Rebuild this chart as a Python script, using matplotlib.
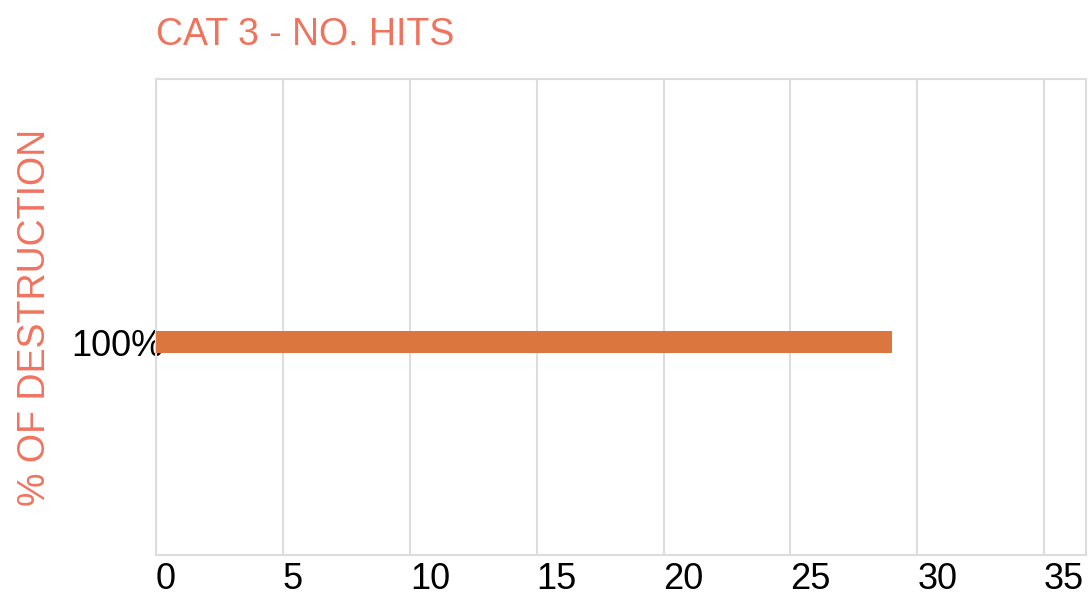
import matplotlib
matplotlib.use("Agg")
import matplotlib.pyplot as plt

plt.rcParams['font.family'] = ['Liberation Sans', 'DejaVu Sans']

categories = ["100%"]
hits = [29]
x_ticks = [0, 5, 10, 15, 20, 25, 30, 35]

title_color = "#F0735E"
bar_color = "#DB763F"
grid_color = "#DDDDDD"

fig = plt.figure(figsize=(10.92, 5.95), dpi=100)
ax = fig.add_axes([156/1092, 1 - 555/595, (1086-156)/1092, (555-79)/595])

ypos = list(range(len(categories)))
ax.barh(ypos, hits, height=0.0462, color=bar_color, zorder=3)
ax.set_ylim(-0.447, 0.553)
ax.set_xlim(0, 36.65)

ax.set_xticks(x_ticks)
ax.set_xticklabels([str(t) for t in x_ticks], ha='left', fontsize=26)
ax.set_yticks(ypos)
ax.set_yticklabels(categories, fontsize=26)
ax.tick_params(axis='x', length=0, pad=5)
ax.tick_params(axis='y', length=0, pad=-5)
for lab in ax.get_yticklabels():
    lab.set_zorder(5)

ax.grid(axis='x', color=grid_color, linewidth=1.5, zorder=1)
for s in ax.spines.values():
    s.set_color(grid_color)
    s.set_linewidth(1.5)

fig.text(156/1092, 1 - 35/595, "CAT 3 - NO. HITS", color=title_color,
         fontsize=27, ha='left', va='center')
fig.text(35/1092, 1 - 317/595, "% OF DESTRUCTION", color=title_color,
         fontsize=27, rotation=90, ha='center', va='center')

fig.savefig("out.png", dpi=100)
